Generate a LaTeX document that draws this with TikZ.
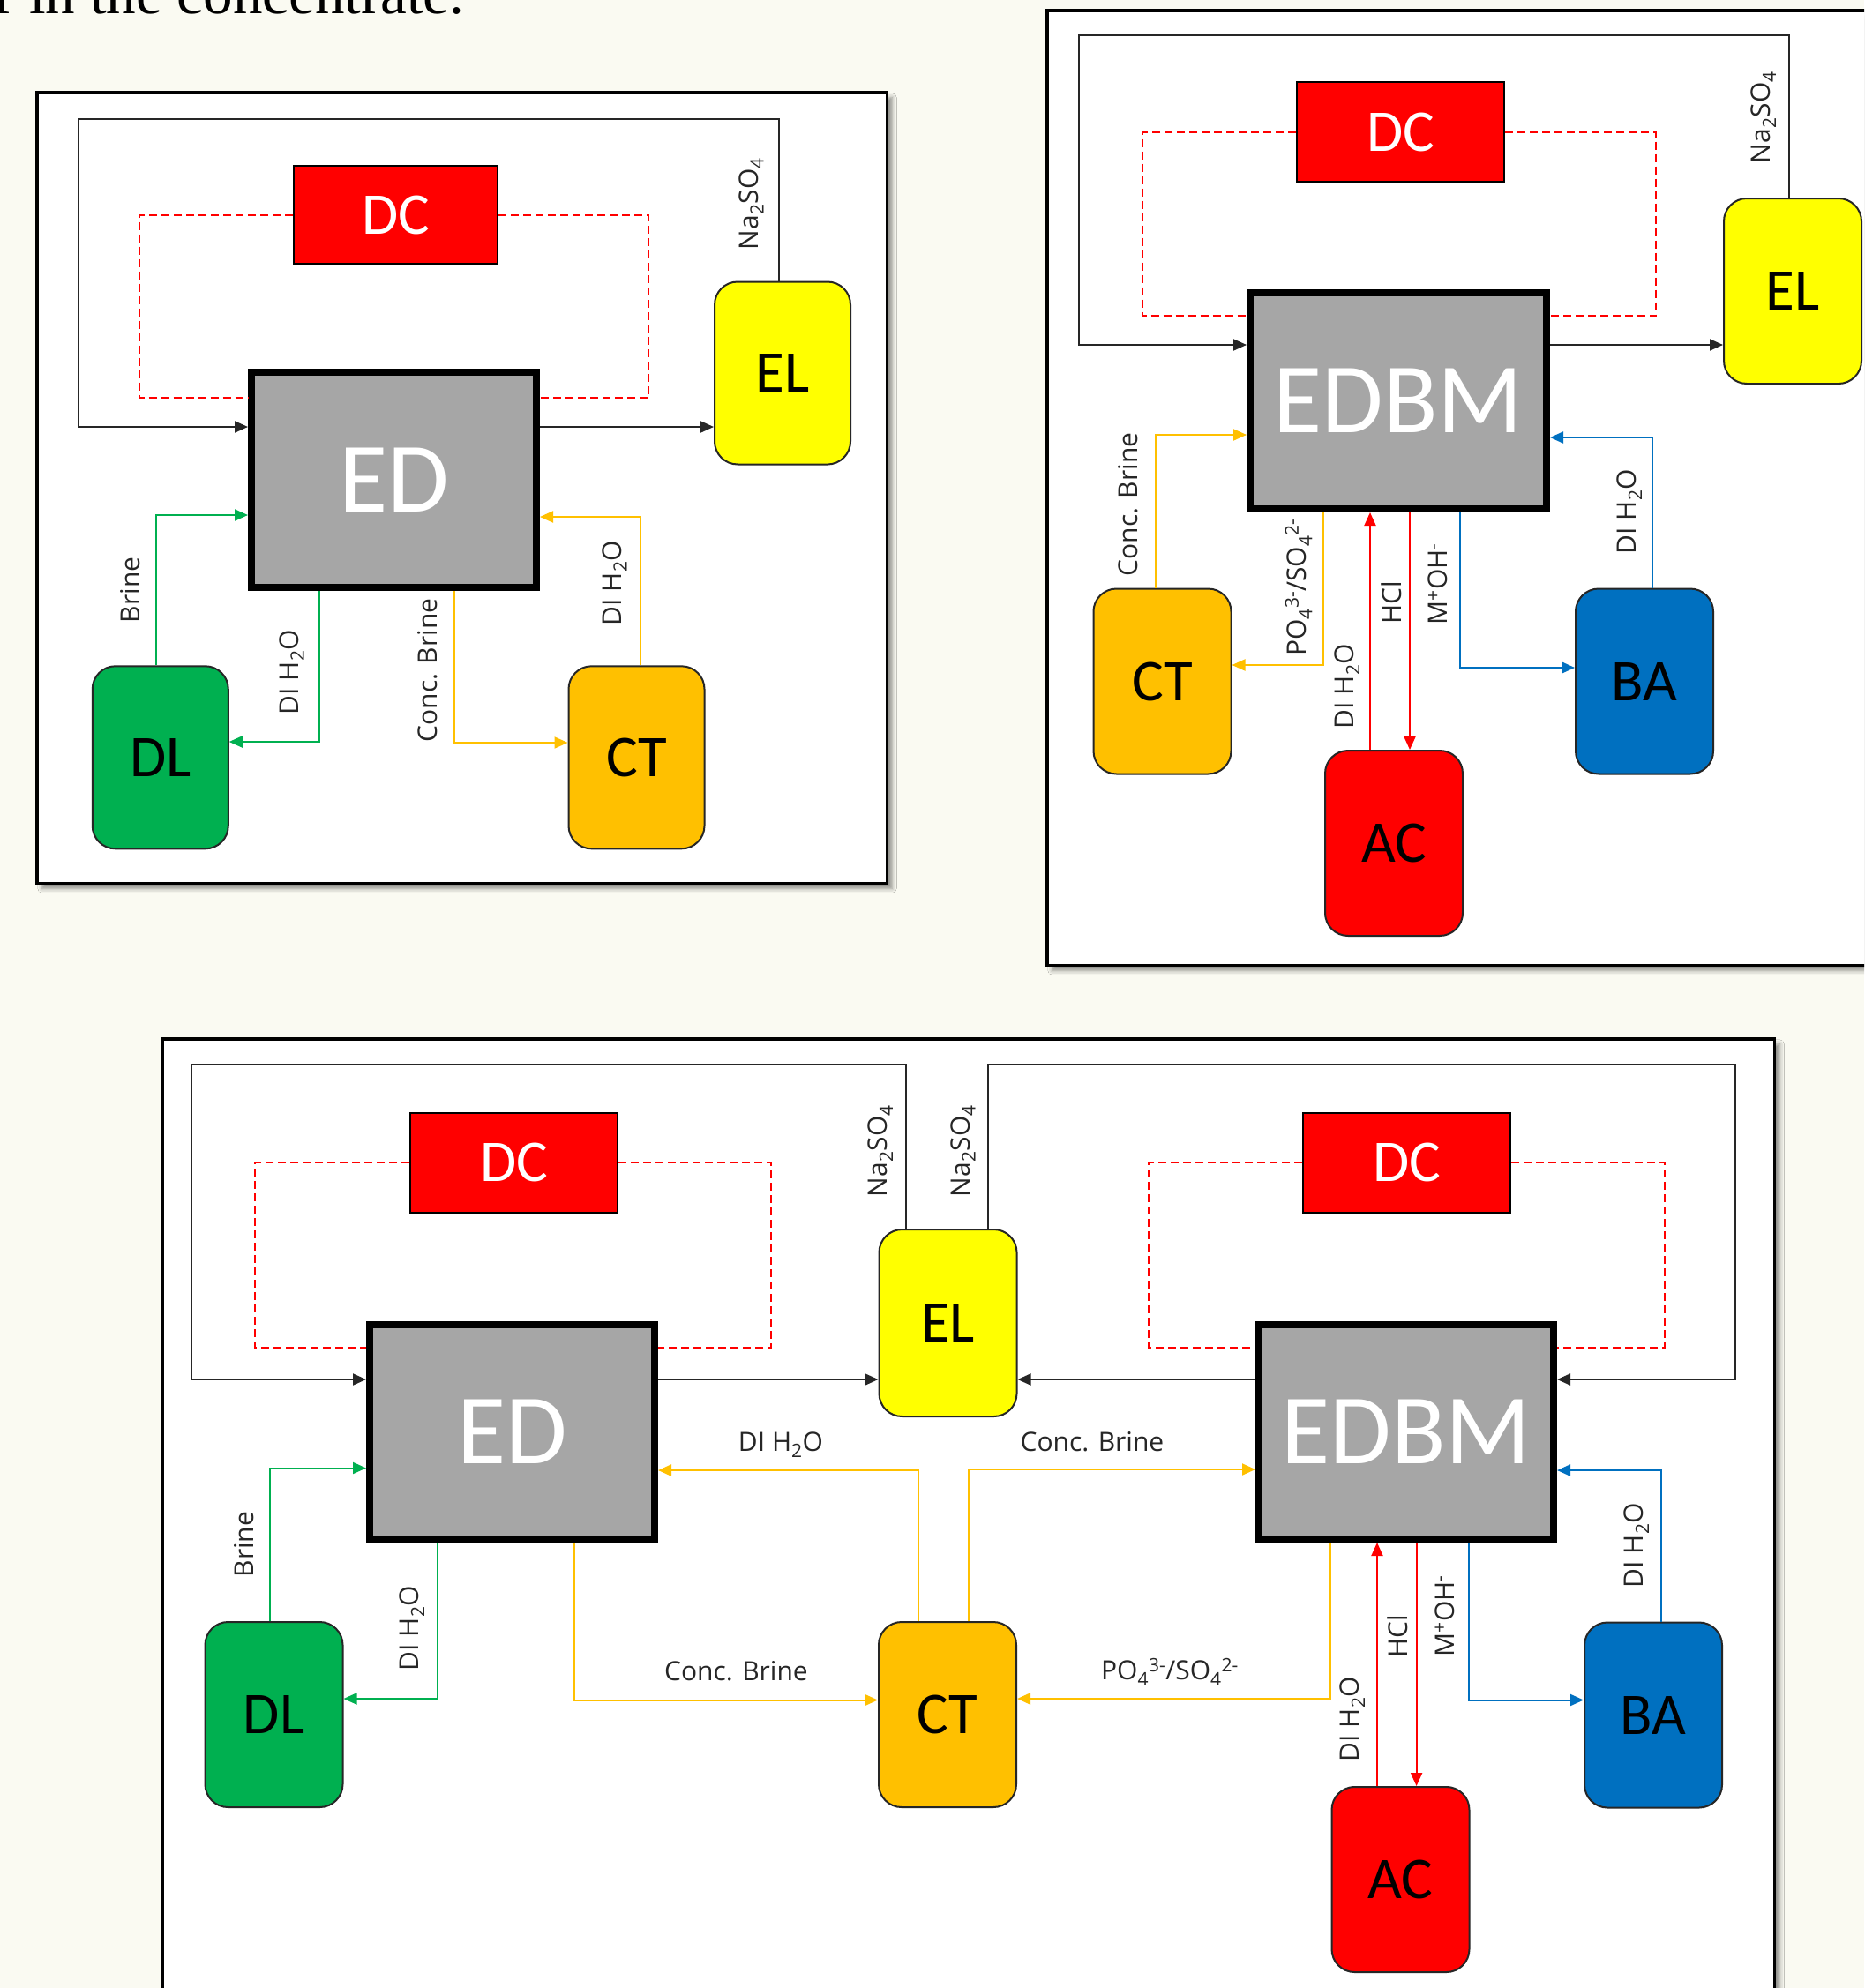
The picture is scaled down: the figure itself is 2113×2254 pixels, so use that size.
\documentclass[tikz,border=0pt]{standalone}
\usepackage{fontspec}
\setmainfont{Liberation Serif}
\newfontfamily\boxfont{Carlito}
\newfontfamily\lblfont{Open Sans}
\usetikzlibrary{arrows.meta,shadows.blur}

\definecolor{paper}{HTML}{FAFAF2}
\definecolor{edgray}{HTML}{A6A6A6}
\definecolor{dcred}{HTML}{FF0000}
\definecolor{dlgreen}{HTML}{00B050}
\definecolor{ctorange}{HTML}{FFC000}
\definecolor{elyellow}{HTML}{FFFF00}
\definecolor{bablue}{HTML}{0070C0}

\begin{document}
\begin{tikzpicture}[x=1pt,y=-1pt,
  panelframe/.style={draw=black,line width=3.5pt,fill=white,
    blur shadow={shadow xshift=6pt,shadow yshift=-6pt,shadow blur radius=5pt,shadow opacity=45}},
  edstack/.style={draw=black,line width=8pt,fill=edgray,text=white,inner sep=0pt,
    font=\boxfont\fontsize{113}{113}\selectfont},
  dcbox/.style={draw=black,line width=2pt,fill=dcred,text=white,inner sep=0pt,
    minimum width=235pt,minimum height=113pt,font=\boxfont\fontsize{67}{67}\selectfont},
  tankbox/.style={draw=black!85,line width=2pt,rounded corners=26pt,inner sep=0pt,
    minimum width=156pt,minimum height=210pt,font=\boxfont\fontsize{67}{67}\selectfont},
  feedline/.style={draw=black!85,line width=2pt},
  flowline/.style={line width=2pt,-{Triangle[length=15pt,width=13pt]}},
  wireline/.style={draw=dcred,line width=2pt,dash pattern=on 9pt off 5pt},
  hlbl/.style={font=\lblfont\fontsize{30}{30}\selectfont,text=black!85,inner sep=0pt},
  vlbl/.style={hlbl,rotate=90},
]
\useasboundingbox (0,0) rectangle (2113,2254);
\clip (0,0) rectangle (2113,2254);
\fill[paper] (0,0) rectangle (2113,2254);

% running text above the figures
\node[anchor=base west,inner sep=0pt,font=\fontsize{67}{67}\selectfont] (caption) at (-6,15) {r in the concentrate.};

% ---------------- panel frames ----------------
\path[panelframe] (41.75,104.75) rectangle (1005.25,1001.25);
\path[panelframe] (1186.75,11.75) rectangle (2150,1094.25);
\path[panelframe] (184.25,1177.75) rectangle (2011.25,2320);

% ================= ED process =================
\node[dcbox,minimum width=231pt,minimum height=111pt] (DCa) at (448.5,243.5) {DC};
\node[edstack,minimum width=323pt,minimum height=244pt] (EDa) at (446.5,544) {ED};
\node[tankbox,fill=elyellow,minimum width=154pt,minimum height=207pt] (ELa) at (887,423) {EL};
\node[tankbox,fill=dlgreen,minimum width=154pt,minimum height=207pt] (DLa) at (181.75,858.8) {DL};
\node[tankbox,fill=ctorange,minimum width=154pt,minimum height=207pt] (CTa) at (721.5,858.8) {CT};

\draw[wireline] (DCa.west) -| (158,451) -- (EDa.west |- 0,451);
\draw[wireline] (DCa.east) -| (734.5,451) -- (EDa.east |- 0,451);
\draw[feedline,flowline] (ELa.north -| 882.6,0) |- (89,135) |- (EDa.west |- 0,484);
\draw[feedline,flowline] (EDa.east |- 0,484) -- (ELa.west |- 0,484);
\draw[flowline,dlgreen] (DLa.north -| 177,0) |- (EDa.west |- 0,584);
\draw[flowline,dlgreen] (EDa.south -| 362,0) |- (DLa.east |- 0,841);
\draw[flowline,ctorange] (EDa.south -| 515,0) |- (CTa.west |- 0,842);
\draw[flowline,ctorange] (CTa.north -| 726,0) |- (EDa.east |- 0,586);

\node[vlbl] (brA) at (148,669) {Brine};
\node[vlbl] (diA1) at (330.5,762) {DI H\textsubscript{2}O};
\node[vlbl] (concA) at (485,760) {Conc. Brine};
\node[vlbl] (diA2) at (696.5,661) {DI H\textsubscript{2}O};
\node[vlbl] (naA) at (851.5,231) {Na\textsubscript{2}SO\textsubscript{4}};

% ================= EDBM process =================
\node[dcbox] (DCb) at (1587.5,149.5) {DC};
\node[edstack,minimum width=336pt,minimum height=245pt] (EDBMb) at (1585,454.5) {EDBM};
\node[tankbox,fill=elyellow] (ELb) at (2032,330) {EL};
\node[tankbox,fill=ctorange] (CTb) at (1317.5,772.5) {CT};
\node[tankbox,fill=dcred] (ACb) at (1580,956) {AC};
\node[tankbox,fill=bablue] (BAb) at (1864,772.5) {BA};

\draw[wireline] (DCb.west) -| (1295,358) -- (EDBMb.west |- 0,358);
\draw[wireline] (DCb.east) -| (1877,358) -- (EDBMb.east |- 0,358);
\draw[feedline,flowline] (ELb.north -| 2028,0) |- (1223,40) |- (EDBMb.west |- 0,391);
\draw[feedline,flowline] (EDBMb.east |- 0,391) -- (ELb.west |- 0,391);
\draw[flowline,ctorange] (CTb.north -| 1309.5,0) |- (EDBMb.west |- 0,493);
\draw[flowline,ctorange] (EDBMb.south -| 1500,0) |- (CTb.east |- 0,754);
\draw[flowline,dcred] (ACb.north -| 1553,0) -- (EDBMb.south -| 1553,0);
\draw[flowline,dcred] (EDBMb.south -| 1598,0) -- (ACb.north -| 1598,0);
\draw[flowline,bablue] (EDBMb.south -| 1655,0) |- (BAb.west |- 0,757);
\draw[flowline,bablue] (BAb.north -| 1873,0) |- (EDBMb.east |- 0,496);

\node[vlbl] (concB) at (1279,572) {Conc. Brine};
\node[vlbl] (poB) at (1472,666) {PO\textsubscript{4}\textsuperscript{3-}/SO\textsubscript{4}\textsuperscript{2-}};
\node[vlbl] (diB1) at (1527,778) {DI H\textsubscript{2}O};
\node[vlbl] (hclB) at (1577,683) {HCl};
\node[vlbl] (mohB) at (1630,662) {M\textsuperscript{+}OH\textsuperscript{-}};
\node[vlbl] (diB2) at (1847,580) {DI H\textsubscript{2}O};
\node[vlbl] (naB) at (1999,133) {Na\textsubscript{2}SO\textsubscript{4}};

% ================= combined ED + EDBM process =================
\node[dcbox] (DCc1) at (582.5,1318) {DC};
\node[dcbox] (DCc2) at (1594.5,1318) {DC};
\node[edstack,minimum width=323pt,minimum height=243pt] (EDc) at (580.5,1623.5) {ED};
\node[edstack,minimum width=334pt,minimum height=243pt] (EDBMc) at (1594,1623.5) {EDBM};
\node[tankbox,fill=elyellow,minimum height=212pt] (ELc) at (1074.5,1500) {EL};
\node[tankbox,fill=dlgreen] (DLc) at (310.5,1944) {DL};
\node[tankbox,fill=ctorange] (CTc) at (1074,1944) {CT};
\node[tankbox,fill=dcred] (ACc) at (1587.5,2131) {AC};
\node[tankbox,fill=bablue] (BAc) at (1874,1944.5) {BA};

\draw[wireline] (DCc1.west) -| (289,1528) -- (EDc.west |- 0,1528);
\draw[wireline] (DCc1.east) -| (874,1528) -- (EDc.east |- 0,1528);
\draw[wireline] (DCc2.west) -| (1302,1528) -- (EDBMc.west |- 0,1528);
\draw[wireline] (DCc2.east) -| (1887,1528) -- (EDBMc.east |- 0,1528);
\draw[feedline,flowline] (ELc.north -| 1027,0) |- (217,1207) |- (EDc.west |- 0,1564);
\draw[feedline,flowline] (ELc.north -| 1120,0) |- (1966.5,1207) |- (EDBMc.east |- 0,1564);
\draw[feedline,flowline] (EDc.east |- 0,1564) -- (ELc.west |- 0,1564);
\draw[feedline,flowline] (EDBMc.west |- 0,1564) -- (ELc.east |- 0,1564);
\draw[flowline,dlgreen] (DLc.north -| 306,0) |- (EDc.west |- 0,1664.5);
\draw[flowline,dlgreen] (EDc.south -| 496,0) |- (DLc.east |- 0,1926);
\draw[flowline,ctorange] (CTc.north -| 1040.7,0) |- (EDc.east |- 0,1667);
\draw[flowline,ctorange] (EDc.south -| 651,0) |- (CTc.west |- 0,1927.5);
\draw[flowline,ctorange] (CTc.north -| 1098,0) |- (EDBMc.west |- 0,1666);
\draw[flowline,ctorange] (EDBMc.south -| 1508,0) |- (CTc.east |- 0,1926);
\draw[flowline,dcred] (ACc.north -| 1561,0) -- (EDBMc.south -| 1561,0);
\draw[flowline,dcred] (EDBMc.south -| 1605.6,0) -- (ACc.north -| 1605.6,0);
\draw[flowline,bablue] (EDBMc.south -| 1664.5,0) |- (BAc.west |- 0,1927.5);
\draw[flowline,bablue] (BAc.north -| 1883,0) |- (EDBMc.east |- 0,1667);

\node[vlbl] (brC) at (277,1751) {Brine};
\node[vlbl] (diC1) at (467,1846) {DI H\textsubscript{2}O};
\node[hlbl] (diC2) at (885,1638) {DI H\textsubscript{2}O};
\node[hlbl] (concC1) at (834.5,1895) {Conc. Brine};
\node[hlbl] (concC2) at (1238,1635) {Conc. Brine};
\node[hlbl] (poC) at (1326,1896) {PO\textsubscript{4}\textsuperscript{3-}/SO\textsubscript{4}\textsuperscript{2-}};
\node[vlbl] (diC3) at (1533,1949) {DI H\textsubscript{2}O};
\node[vlbl] (hclC) at (1584,1855) {HCl};
\node[vlbl] (mohC) at (1637.5,1832) {M\textsuperscript{+}OH\textsuperscript{-}};
\node[vlbl] (diC4) at (1855,1752) {DI H\textsubscript{2}O};
\node[vlbl] (naC1) at (998,1305) {Na\textsubscript{2}SO\textsubscript{4}};
\node[vlbl] (naC2) at (1091.5,1305) {Na\textsubscript{2}SO\textsubscript{4}};
\end{tikzpicture}
\end{document}
